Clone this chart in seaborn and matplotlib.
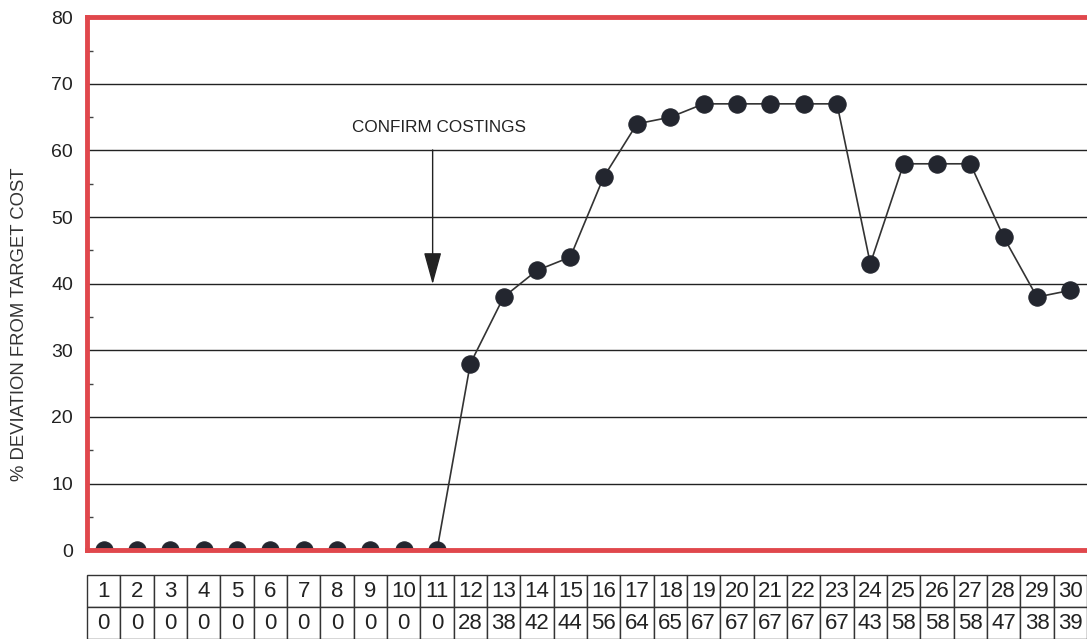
import numpy as np
import pandas as pd
import seaborn as sns
import matplotlib.pyplot as plt

# weekly deviation from target cost
weeks = list(range(1, 31))
deviation = [0, 0, 0, 0, 0, 0, 0, 0, 0, 0, 0, 28, 38, 42, 44, 56, 64, 65,
             67, 67, 67, 67, 67, 43, 58, 58, 58, 47, 38, 39]
y_ticks = [0, 10, 20, 30, 40, 50, 60, 70, 80]
note = "CONFIRM COSTINGS"
note_week = 10.87

df = pd.DataFrame({"week": weeks, "deviation": deviation})

sns.set_style("white")
plt.rcParams['font.family'] = ['Liberation Sans', 'DejaVu Sans']

fig = plt.figure(figsize=(10.87, 6.39), dpi=100)
ax = fig.add_axes([0.080, 0.139, 0.92, 0.834])

sns.lineplot(data=df, x="week", y="deviation", ax=ax, color="#333333",
             linewidth=1.2, marker="o", markersize=12.5,
             markerfacecolor="#23262f", markeredgecolor="#23262f", zorder=2)

ax.set_xlim(0.5, 30.5)
ax.set_ylim(0, 80)
ax.set_yticks(y_ticks)
ax.set_yticks([5, 15, 25, 35, 45, 55, 65, 75], minor=True)
ax.set_xticks([])
ax.set_xlabel("")
ax.set_ylabel("% DEVIATION FROM TARGET COST", fontsize=13.3, color="#333333")
ax.yaxis.set_label_coords(-0.059, 0.424)
ax.tick_params(axis="y", which="major", length=0, labelsize=14, pad=10, labelcolor="#222222")
ax.tick_params(axis="y", which="minor", length=4, width=1, color="#444444", direction="in", left=True)
for v in y_ticks[1:-1]:
    ax.axhline(v, color="#222222", linewidth=1.0, zorder=1)

for side in ["left", "top", "bottom"]:
    ax.spines[side].set_color("#e0474c")
    ax.spines[side].set_linewidth(3.5)
    ax.spines[side].set_zorder(5)
ax.spines["right"].set_visible(False)

ax.annotate("", xy=(note_week, 39.5), xytext=(note_week, 60.5),
            arrowprops=dict(arrowstyle="-|>,head_length=2.0,head_width=0.55",
                            color="#222222", lw=1.0))
ax.text(note_week + 0.2, 63.4, note, ha="center", va="center", fontsize=12.3, color="#222222")

# table of values below the plot
tax = fig.add_axes([0.080, 0.0, 0.92, 0.1])
tax.axis("off")
tbl = tax.table(cellText=[[str(w) for w in weeks], [str(d) for d in deviation]],
                cellLoc="center", bbox=[0, 0, 1, 1])
tbl.auto_set_font_size(False)
tbl.set_fontsize(16)
for cell in tbl.get_celld().values():
    cell.set_edgecolor("#333333")
    cell.set_linewidth(1.0)
    cell.get_text().set_color("#222222")

fig.savefig("out.png", dpi=100)
